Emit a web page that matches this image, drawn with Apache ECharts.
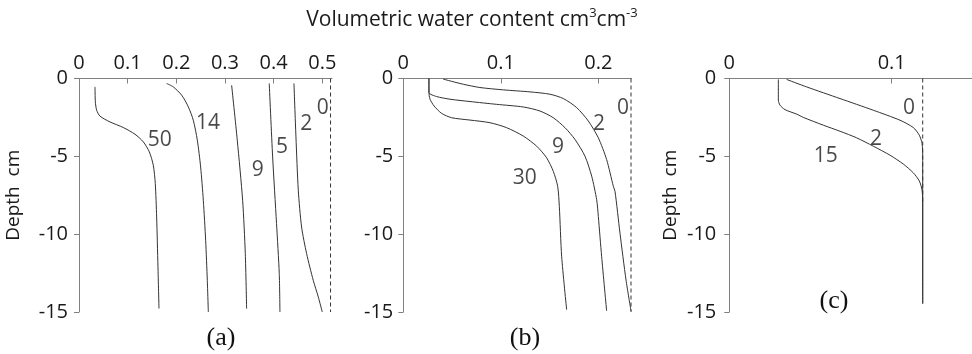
<!DOCTYPE html>
<html><head><meta charset="utf-8">
<script src="https://cdn.jsdelivr.net/npm/echarts/dist/echarts.min.js"></script>
<style>html,body{margin:0;padding:0;background:#fff}#c{width:972px;height:354px}</style>
</head><body><div id="c"></div>
<script>
// ---------- data: [volumetric water content, depth cm] ----------
// Panel (a)
const a_t0  = [[0.517, 0], [0.517, -15]];
const a_t2  = [[0.4418,-0.32],[0.4459,-3.75],[0.4507,-7.18],[0.4575,-9.54],[0.4678,-11.25],[0.4815,-12.97],[0.4918,-14.03],[0.5,-15]];
const a_t5  = [[0.391,-0.32],[0.398,-5.04],[0.406,-9.32],[0.4116,-12.53],[0.413,-15]];
const a_t9  = [[0.3137,-0.43],[0.3253,-3.96],[0.3363,-7.82],[0.3418,-11.25],[0.3445,-14.78]];
const a_t14 = [[0.1801,-0.32],[0.1938,-0.54],[0.211,-1.07],[0.2247,-1.82],[0.2349,-2.68],[0.2432,-3.96],[0.25,-5.68],[0.2555,-7.82],[0.2603,-10.39],[0.2637,-12.96],[0.2658,-15]];
const a_t50 = [[0.0329,-0.54],[0.0336,-1.5],[0.0363,-2.04],[0.0432,-2.42],[0.0637,-2.79],[0.0911,-3.15],[0.1151,-3.58],[0.1322,-4.07],[0.1445,-4.71],[0.1527,-5.57],[0.1568,-6.75],[0.1596,-8.89],[0.1623,-12.1],[0.1644,-14.78]];
const a_labels = [['50',0.166,-3.93],['14',0.265,-2.88],['9',0.3675,-5.89],['5',0.417,-4.38],['2',0.467,-2.93],['0',0.501,-1.87]];

// Panel (b)
const b_t0  = [[0.2335, 0], [0.2335, -15]];
const b_t2  = [[0.041,-0.04],[0.0615,-0.37],[0.0786,-0.58],[0.1026,-0.73],[0.1299,-0.86],[0.1504,-1.01],[0.1641,-1.29],[0.1778,-1.87],[0.1897,-2.73],[0.2,-3.81],[0.2085,-5.21],[0.2154,-6.93],[0.2171,-7.25],[0.2222,-9.94],[0.2284,-12.95],[0.2335,-14.93]];
const b_t9  = [[0.0263,0],[0.0263,-0.9],[0.0342,-1.16],[0.0479,-1.33],[0.0684,-1.48],[0.0957,-1.66],[0.1231,-1.83],[0.1402,-2.09],[0.1538,-2.52],[0.1658,-3.16],[0.1761,-3.92],[0.1863,-4.99],[0.1932,-6.28],[0.1983,-7.79],[0.2,-8.87],[0.2034,-11.45],[0.2085,-14.93]];
const b_t30 = [[0.0263,0],[0.0263,-0.9],[0.0274,-1.33],[0.0315,-1.76],[0.0393,-2.24],[0.0496,-2.52],[0.0684,-2.67],[0.0889,-2.84],[0.106,-3.16],[0.1231,-3.7],[0.1368,-4.35],[0.147,-5.1],[0.1538,-5.96],[0.1583,-6.93],[0.16,-8.22],[0.1624,-11.45],[0.1675,-14.85]];
const b_labels = [['0',0.2253,-1.91],['2',0.2007,-2.9],['9',0.1587,-4.4],['30',0.1245,-6.38]];

// Panel (c)
const c_t0  = [[0.1191, 0], [0.1191, -8]];
const c_t2  = [[0.0353,-0.06],[0.0476,-0.54],[0.0682,-1.29],[0.0887,-2.04],[0.1051,-2.68],[0.1133,-3.15],[0.117,-3.64],[0.1187,-4.18],[0.1191,-5.04],[0.1191,-14.46]];
const c_t15 = [[0.0302,-0.06],[0.0302,-1.39],[0.0312,-1.71],[0.0343,-2.0],[0.0415,-2.29],[0.0456,-2.5],[0.0579,-3.0],[0.0682,-3.39],[0.0784,-3.81],[0.0887,-4.35],[0.099,-4.93],[0.1072,-5.5],[0.1133,-6.06],[0.117,-6.58],[0.1187,-7.18],[0.1191,-8.04],[0.1191,-14.46]];
const c_labels = [['0',0.1107,-1.87],['2',0.0903,-3.89],['15',0.0594,-4.95]];

const xMax = [0.52, 0.234, 0.15];
const depthMin = -15, depthMax = 0, depthStep = 5, wcStep = 0.1;

// ---------- styling ----------
const FONT = 'Open Sans';
const AXIS_COLOR = '#808080';
const TEXT_COLOR = '#1a1a1a';
const LINE_COLOR = '#333333';

const grids = [
  {left: 79,    top: 78.5, width: 253,   height: 233.5},
  {left: 403.3, top: 78.5, width: 228.2, height: 233.5},
  {left: 729.3, top: 78.5, width: 243.6, height: 233.5}
].map(g => Object.assign({containLabel: false, outerBoundsMode: 'none'}, g));

function xAxis(i) {
  return {
    type: 'value', gridIndex: i, position: 'top', min: 0, max: xMax[i], interval: wcStep,
    axisLine: {show: true, onZero: false, lineStyle: {color: AXIS_COLOR, width: 1}},
    axisTick: {show: true, inside: true, length: 5, lineStyle: {color: AXIS_COLOR}},
    axisLabel: {show: true, margin: 5, fontFamily: FONT, fontSize: 20, color: TEXT_COLOR,
      showMaxLabel: false,
      formatter: v => (Math.abs(v * 10 - Math.round(v * 10)) > 1e-6) ? '' : (v === 0 ? '0' : (+v).toFixed(1))},
    splitLine: {show: false}
  };
}
function yAxis(i, withName, gap, lblMargin) {
  return {
    type: 'value', gridIndex: i, min: depthMin, max: depthMax, interval: depthStep,
    axisLine: {show: true, onZero: false, lineStyle: {color: AXIS_COLOR, width: 1}},
    axisTick: {show: true, inside: false, length: 5, lineStyle: {color: AXIS_COLOR}},
    axisLabel: {show: true, margin: lblMargin, fontFamily: FONT, fontSize: 20, color: TEXT_COLOR},
    splitLine: {show: false},
    name: withName ? 'Depth  cm' : '', nameLocation: 'middle', nameGap: gap,
    nameTextStyle: {fontFamily: FONT, fontSize: 19, color: TEXT_COLOR}
  };
}

function curve(i, name, data, dashed) {
  return {
    type: 'line', name, xAxisIndex: i, yAxisIndex: i, data,
    showSymbol: false, symbol: 'none', smooth: dashed ? false : 0.25,
    lineStyle: {color: dashed ? '#333' : LINE_COLOR, width: 1, type: dashed ? [4, 3] : 'solid'},
    silent: true, z: 3
  };
}
function labels(i, arr) {
  return {
    type: 'scatter', xAxisIndex: i, yAxisIndex: i, symbolSize: 1,
    itemStyle: {color: 'rgba(0,0,0,0)'},
    data: arr.map(d => ({name: d[0], value: [d[1], d[2]]})),
    label: {show: true, position: 'inside', formatter: p => p.name,
      fontFamily: FONT, fontSize: 21, color: TEXT_COLOR},
    silent: true, z: 5
  };
}

const option = {
  animation: false,
  backgroundColor: '#fff',
  grid: grids,
  xAxis: [xAxis(0), xAxis(1), xAxis(2)],
  yAxis: [yAxis(0, true, 56, 11), yAxis(1, false, 0, 10), yAxis(2, true, 49, 13)],
  series: [
    curve(0, '0', a_t0, true), curve(0, '2', a_t2), curve(0, '5', a_t5), curve(0, '9', a_t9),
    curve(0, '14', a_t14), curve(0, '50', a_t50), labels(0, a_labels),
    curve(1, '0', b_t0, true), curve(1, '2', b_t2), curve(1, '9', b_t9), curve(1, '30', b_t30), labels(1, b_labels),
    curve(2, '0', c_t0, true), curve(2, '2', c_t2), curve(2, '15', c_t15), labels(2, c_labels)
  ],
  graphic: [
    {type: 'text', x: 472, y: 20, style: {
      text: '{m|Volumetric water content cm}{s|3}{m|cm}{s|-3}',
      align: 'center', verticalAlign: 'middle',
      rich: {
        m: {fontFamily: FONT, fontSize: 21, fill: TEXT_COLOR, lineHeight: 26, verticalAlign: 'middle'},
        s: {fontFamily: FONT, fontSize: 13, fill: TEXT_COLOR, lineHeight: 13, verticalAlign: 'top'}
      }}},
    {type: 'text', x: 221, y: 338, style: {text: '(a)', font: '26px "Liberation Serif", "Times New Roman", serif', fill: '#111', align: 'center', verticalAlign: 'middle'}},
    {type: 'text', x: 525, y: 338, style: {text: '(b)', font: '26px "Liberation Serif", "Times New Roman", serif', fill: '#111', align: 'center', verticalAlign: 'middle'}},
    {type: 'text', x: 834, y: 301, style: {text: '(c)', font: '26px "Liberation Serif", "Times New Roman", serif', fill: '#111', align: 'center', verticalAlign: 'middle'}}
  ]
};

const chart = echarts.init(document.getElementById('c'), null, {renderer: 'canvas'});
chart.setOption(option);
</script>
</body></html>
